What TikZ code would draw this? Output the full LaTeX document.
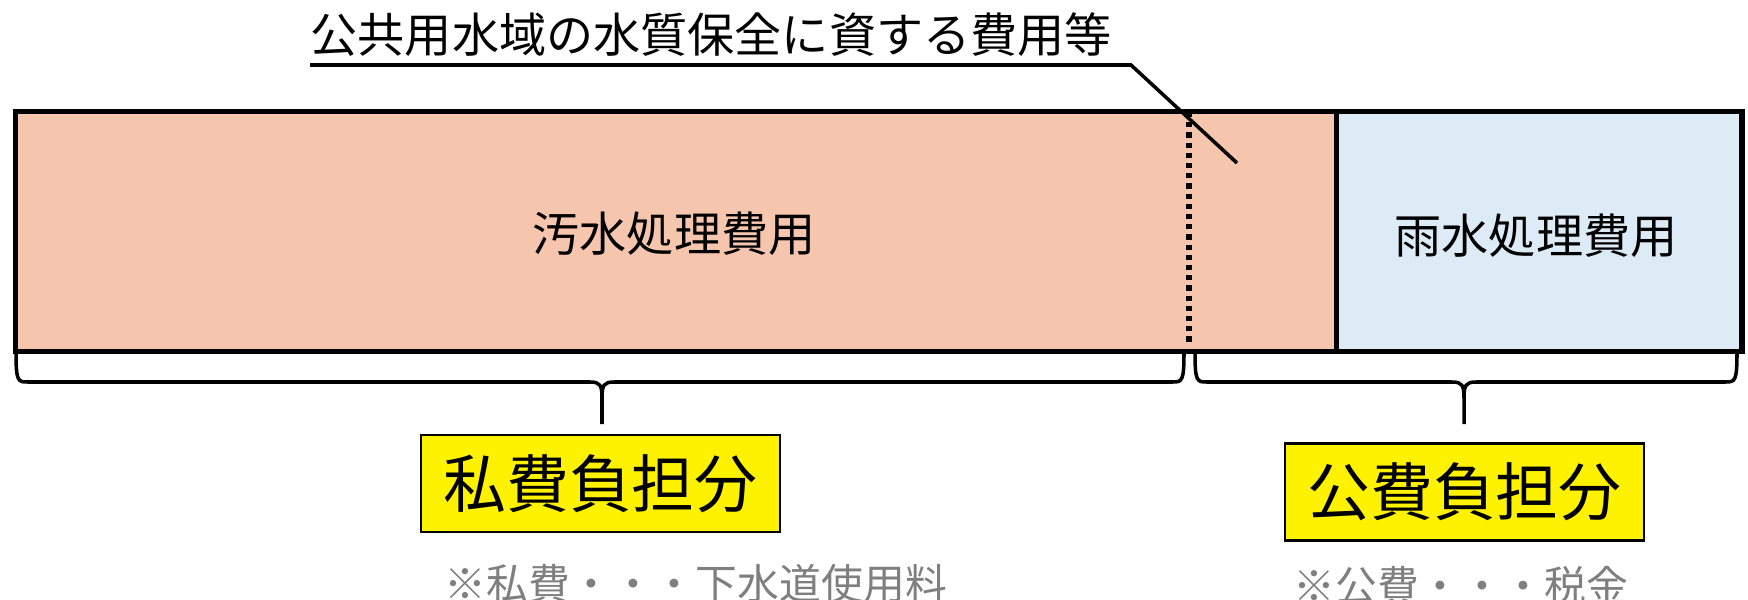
\documentclass[tikz,border=0pt]{standalone}
\usepackage{fontspec}
\setmainfont{Noto Sans CJK JP}
\definecolor{orangefill}{HTML}{F5C6AD}
\definecolor{bluefill}{HTML}{DDEBF7}
\definecolor{notegray}{HTML}{7F7F7F}
\tikzset{
  costbox/.style={draw=black, line width=1.5pt, inner sep=0pt, anchor=north west},
  costtext/.style={font=\fontsize{13.4pt}{15pt}\selectfont, inner sep=0pt},
  sharebox/.style={draw=black, line width=0.6pt, fill=yellow, minimum width=3.59cm, minimum height=0.97cm, inner sep=0pt, font=\fontsize{17.9pt}{20pt}\selectfont},
  notetext/.style={text=notegray, font=\fontsize{11.9pt}{14pt}\selectfont, inner sep=0pt, anchor=west},
  bracestyle/.style={line width=1.0pt},
  dotline/.style={line width=1.5pt, dash pattern=on 1.5pt off 1.4pt},
  leader/.style={line width=1.0pt}
}
\begin{document}
\begin{tikzpicture}[x=0.01cm,y=-0.01cm]
\useasboundingbox (0,0) rectangle (1748,600);
% boxes
\node[costbox, fill=orangefill, minimum width=13.21cm, minimum height=2.40cm] (sewage) at (13,109) {};
\node[costbox, fill=bluefill, minimum width=4.05cm, minimum height=2.40cm] (rain) at (1334,109) {};
\node[costtext] (sewagetxt) at (674,234) {汚水処理費用};
\node[costtext] (raintxt) at (1536,236) {雨水処理費用};
% dotted divider
\coordinate (dtop) at (1189,112);
\coordinate (dbot) at (1189,346);
\draw[dotline] (dtop) -- (dbot);
% leader label
\node[costtext, anchor=south west] (publbl) at (310,57) {公共用水域の水質保全に資する費用等};
\coordinate (lcorner) at (1131,65);
\coordinate (ltip) at (1237,163);
\draw[leader] (publbl.south west |- lcorner) -- (lcorner) -- (ltip);
% braces
\coordinate (lbA) at (16,352);
\coordinate (lbB) at (1184,352);
\coordinate (lbM) at (602,424);
\coordinate (rbA) at (1195,352);
\coordinate (rbB) at (1737,352);
\coordinate (rbM) at (1464,424);
\draw[bracestyle] (lbA) .. controls (16,382) and (18,382) .. (28,382) -- (590,382)
  .. controls (600,382) and (602,385) .. (602,398) -- (lbM);
\draw[bracestyle] (lbB) .. controls (1184,382) and (1182,382) .. (1172,382) -- (614,382)
  .. controls (604,382) and (602,385) .. (602,398);
\draw[bracestyle] (rbA) .. controls (1195,382) and (1197,382) .. (1207,382) -- (1452,382)
  .. controls (1462,382) and (1464,385) .. (1464,398) -- (rbM);
\draw[bracestyle] (rbB) .. controls (1737,382) and (1735,382) .. (1725,382) -- (1476,382)
  .. controls (1466,382) and (1464,385) .. (1464,398);
% share boxes
\node[sharebox] (private) at (600.5,483.5) {私費負担分};
\node[sharebox] (public) at (1464.5,492) {公費負担分};
% notes
\node[notetext] (privnote) at (444,584) {※私費・・・下水道使用料};
\node[notetext] (pubnote) at (1293,586) {※公費・・・税金};
\end{tikzpicture}
\end{document}
